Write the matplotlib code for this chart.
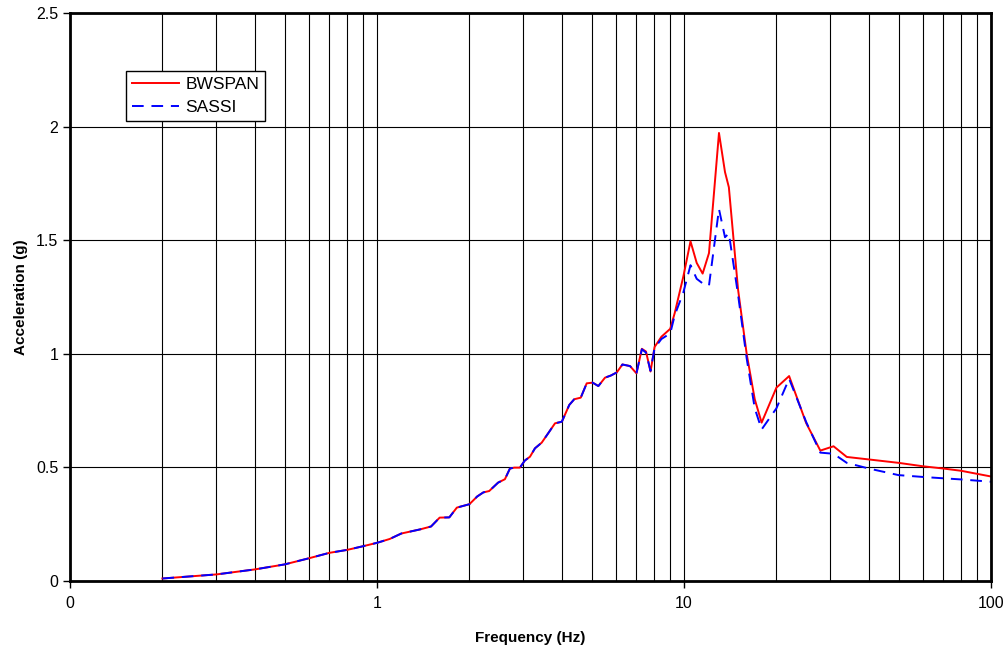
import matplotlib
matplotlib.use("Agg")
import matplotlib.pyplot as plt
from matplotlib.ticker import FixedLocator, FixedFormatter, NullFormatter

plt.rcParams['font.family'] = ['Liberation Sans', 'DejaVu Sans']

# frequency points (Hz)
freq = [0.2, 0.3, 0.4, 0.5, 0.6, 0.7, 0.8, 0.9, 1.0, 1.1,
        1.2, 1.38, 1.5, 1.6, 1.72, 1.82, 2.0, 2.12, 2.22, 2.32,
        2.48, 2.61, 2.71, 2.8, 2.92, 3.03, 3.15, 3.27, 3.44, 3.61,
        3.8, 4.0, 4.23, 4.39, 4.61, 4.82, 5.04, 5.26, 5.53, 5.77,
        6.04, 6.3, 6.67, 7.0, 7.29, 7.52, 7.78, 8.02, 8.44, 9.02,
        9.33, 9.95, 10.5, 11.0, 11.5, 12.06, 13.0, 13.6, 14.0, 15.0,
        16.0, 17.0, 17.9, 20.0, 22.0, 25.0, 27.8, 30.7, 33.9, 40.0,
        50.0, 60.0, 70.0, 80.0, 100.0]

bwspan = [0.011, 0.029, 0.051, 0.073, 0.100, 0.124, 0.137, 0.153, 0.168, 0.185,
          0.209, 0.227, 0.240, 0.279, 0.280, 0.323, 0.338, 0.372, 0.390, 0.396,
          0.433, 0.448, 0.495, 0.499, 0.499, 0.530, 0.547, 0.584, 0.609, 0.650,
          0.694, 0.701, 0.775, 0.800, 0.807, 0.870, 0.873, 0.858, 0.895, 0.904,
          0.918, 0.953, 0.946, 0.914, 1.022, 1.010, 0.922, 1.030, 1.075, 1.110,
          1.180, 1.340, 1.495, 1.400, 1.353, 1.443, 1.972, 1.800, 1.733, 1.283,
          1.000, 0.800, 0.697, 0.851, 0.902, 0.695, 0.574, 0.593, 0.546, 0.535,
          0.520, 0.505, 0.495, 0.485, 0.460]

sassi = [0.011, 0.029, 0.051, 0.073, 0.100, 0.124, 0.137, 0.153, 0.168, 0.185,
         0.209, 0.227, 0.240, 0.279, 0.280, 0.323, 0.338, 0.372, 0.390, 0.396,
         0.433, 0.448, 0.495, 0.499, 0.499, 0.530, 0.547, 0.584, 0.609, 0.650,
         0.694, 0.701, 0.775, 0.800, 0.807, 0.870, 0.873, 0.858, 0.895, 0.904,
         0.918, 0.953, 0.946, 0.914, 1.020, 1.005, 0.925, 1.025, 1.065, 1.090,
         1.170, 1.270, 1.390, 1.330, 1.310, 1.300, 1.637, 1.513, 1.530, 1.260,
         0.980, 0.760, 0.667, 0.760, 0.890, 0.700, 0.565, 0.560, 0.520, 0.495,
         0.466, 0.458, 0.452, 0.447, 0.437]

xtick_vals = [0.1, 1, 10, 100]
xtick_labels = ["0", "1", "10", "100"]

fig = plt.figure(figsize=(10.08, 6.52), dpi=100)
ax = fig.add_axes([70/1008, 1-581/652, 921/1008, 568/652])

ax.set_xscale("log")
ax.set_xlim(0.1, 100)
ax.set_ylim(0, 2.5)

# grid: every 0.5 in y, every 1..9 x 10^k in x
minor = [m * 10.0**k for k in (-1, 0, 1) for m in range(2, 10)]
ax.xaxis.set_major_locator(FixedLocator(xtick_vals))
ax.xaxis.set_major_formatter(FixedFormatter(xtick_labels))
ax.xaxis.set_minor_locator(FixedLocator(minor))
ax.xaxis.set_minor_formatter(NullFormatter())
ax.set_yticks([0, 0.5, 1, 1.5, 2, 2.5])
ax.set_yticklabels(["0", "0.5", "1", "1.5", "2", "2.5"])

ax.grid(True, which="both", axis="x", color="black", lw=0.8)
ax.grid(True, which="major", axis="y", color="black", lw=0.8)
ax.set_axisbelow(True)

ax.plot(freq, bwspan, color="#ff0000", lw=1.4, label="BWSPAN")
ax.plot(freq, sassi, color="#0000ff", lw=1.4, ls=(0, (6, 4)), label="SASSI")

for s in ax.spines.values():
    s.set_linewidth(2)
    s.set_color("black")

ax.tick_params(axis="both", which="major", direction="out", length=5, width=1,
               labelsize=11.5, colors="black")
ax.tick_params(axis="x", which="minor", length=0)
ax.tick_params(axis="x", pad=6)

ax.set_xlabel("Frequency (Hz)", fontsize=11, fontweight="bold", labelpad=14)
ax.set_ylabel("Acceleration (g)", fontsize=11, fontweight="bold", labelpad=6)

leg = ax.legend(loc="upper left", bbox_to_anchor=(0.061, 0.898), borderaxespad=0,
                fontsize=12.5, fancybox=False, framealpha=1, edgecolor="black",
                handlelength=2.7, handletextpad=0.35, borderpad=0.35, labelspacing=0.45)
leg.get_frame().set_linewidth(1)

fig.savefig("out.png", dpi=100)
